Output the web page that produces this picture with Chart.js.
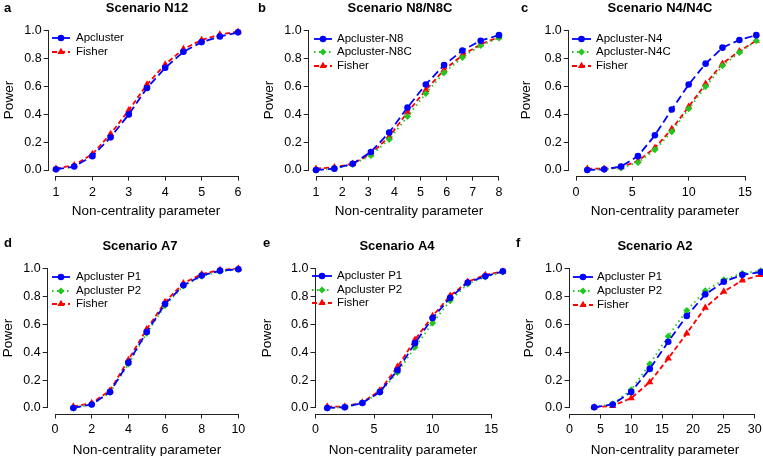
<!DOCTYPE html>
<html>
<head>
<meta charset="utf-8">
<script src="https://cdn.jsdelivr.net/npm/chart.js@4/dist/chart.umd.min.js"></script>
<style>
  html, body { margin: 0; padding: 0; background: #fff; overflow: hidden; width: 763px; height: 457px; }
  canvas { position: absolute; }
</style>
</head>
<body>
<canvas id="pa"></canvas>
<canvas id="pb"></canvas>
<canvas id="pc"></canvas>
<canvas id="pd"></canvas>
<canvas id="pe"></canvas>
<canvas id="pf"></canvas>
<script>
// ---- Data ----
const yTicks = [0, 0.2, 0.4, 0.6, 0.8, 1.0];

// a: Scenario N12
const xA = [1, 1.5, 2, 2.5, 3, 3.5, 4, 4.5, 5, 5.5, 6];
const aApcluster = [0.005, 0.025, 0.10, 0.235, 0.40, 0.59, 0.735, 0.85, 0.92, 0.96, 0.99];
const aFisher    = [0.01, 0.035, 0.115, 0.26, 0.43, 0.615, 0.76, 0.87, 0.935, 0.975, 0.995];
const xTicksA = [1, 2, 3, 4, 5, 6];

// b: Scenario N8/N8C
const xB = [1, 1.7, 2.4, 3.1, 3.8, 4.5, 5.2, 5.9, 6.6, 7.3, 8];
const bN8     = [0.0, 0.01, 0.045, 0.13, 0.27, 0.45, 0.615, 0.755, 0.86, 0.93, 0.97];
const bN8C    = [0.0, 0.01, 0.04, 0.105, 0.22, 0.385, 0.55, 0.70, 0.81, 0.895, 0.95];
const bFisher = [0.01, 0.02, 0.045, 0.115, 0.24, 0.415, 0.575, 0.72, 0.825, 0.905, 0.955];
const xTicksB = [1, 2, 3, 4, 5, 6, 7, 8];

// c: Scenario N4/N4C
const xC = [1, 2.5, 4, 5.5, 7, 8.5, 10, 11.5, 13, 14.5, 16];
const cN4     = [0.0, 0.005, 0.025, 0.10, 0.25, 0.435, 0.615, 0.765, 0.88, 0.935, 0.97];
const cN4C    = [0.0, 0.005, 0.015, 0.055, 0.145, 0.275, 0.44, 0.60, 0.75, 0.845, 0.93];
const cFisher = [0.01, 0.01, 0.02, 0.065, 0.16, 0.295, 0.455, 0.62, 0.765, 0.855, 0.93];
const xTicksC = [0, 5, 10, 15];

// d: Scenario A7
const xD = [1, 2, 3, 4, 5, 6, 7, 8, 9, 10];
const dP1     = [0.0, 0.025, 0.115, 0.325, 0.545, 0.745, 0.88, 0.95, 0.985, 0.995];
const dP2     = [0.0, 0.025, 0.11, 0.315, 0.535, 0.735, 0.875, 0.945, 0.98, 0.995];
const dFisher = [0.01, 0.035, 0.125, 0.345, 0.565, 0.76, 0.895, 0.96, 0.99, 1.0];
const xTicksD = [0, 2, 4, 6, 8, 10];

// e: Scenario A4
const xE = [1, 2.5, 4, 5.5, 7, 8.5, 10, 11.5, 13, 14.5, 16];
const eP1     = [0.0, 0.005, 0.035, 0.115, 0.27, 0.465, 0.645, 0.79, 0.90, 0.945, 0.98];
const eP2     = [0.0, 0.005, 0.035, 0.11, 0.255, 0.435, 0.61, 0.77, 0.89, 0.94, 0.975];
const eFisher = [0.01, 0.01, 0.04, 0.125, 0.295, 0.49, 0.66, 0.805, 0.905, 0.955, 0.98];
const xTicksE = [0, 5, 10, 15];

// f: Scenario A2
const xF = [4, 7, 10, 13, 16, 19, 22, 25, 28, 31];
const fP1     = [0.005, 0.025, 0.115, 0.28, 0.475, 0.66, 0.815, 0.905, 0.955, 0.975];
const fP2     = [0.005, 0.03, 0.13, 0.315, 0.515, 0.70, 0.84, 0.92, 0.965, 0.985];
const fFisher = [0.005, 0.015, 0.07, 0.185, 0.355, 0.535, 0.72, 0.835, 0.915, 0.955];
const xTicksF = [0, 5, 10, 15, 20, 25, 30];

// ---- Styles ----
const FONT = '"Liberation Sans", Arial, sans-serif';
const BLUE = { color: '#0000ff', dash: [8, 4], legendDash: [], marker: 'circle', r: 3.3 };
const GREEN = { color: '#1ec81e', dash: [1.5, 3.5], legendDash: [1.5, 3.5], marker: 'rectRot', r: 3.5 };
const RED = { color: '#ff0000', dash: [5, 3], legendDash: [5, 3], marker: 'triangle', r: 4.2 };

const CW = 262, CH = 228;

// ---- Plugin: R-style axes, titles, legend ----
function panelPlugin(p) {
  return {
    id: 'panel_' + p.letter,
    afterDraw(chart) {
      const { ctx, chartArea, scales: { x, y } } = chart;
      ctx.save();
      // axis lines between first and last tick
      ctx.strokeStyle = '#222';
      ctx.lineWidth = 1;
      ctx.beginPath();
      const xb = Math.round(chartArea.bottom) + 0.5;
      ctx.moveTo(x.getPixelForValue(p.xTicks[0]), xb);
      ctx.lineTo(x.getPixelForValue(p.xTicks[p.xTicks.length - 1]), xb);
      const yl = Math.round(chartArea.left) - 0.5;
      ctx.moveTo(yl, y.getPixelForValue(yTicks[0]));
      ctx.lineTo(yl, y.getPixelForValue(yTicks[yTicks.length - 1]));
      ctx.stroke();

      ctx.fillStyle = '#000';
      // panel letter
      ctx.font = 'bold 13px ' + FONT;
      ctx.textAlign = 'left';
      ctx.textBaseline = 'middle';
      ctx.fillText(p.letter, p.letterPos[0], p.letterPos[1]);
      // title
      ctx.font = 'bold 13px ' + FONT;
      ctx.textAlign = 'center';
      ctx.fillText(p.title, p.titlePos[0], p.titlePos[1]);
      // axis titles
      ctx.font = '13.5px ' + FONT;
      ctx.fillText('Non-centrality parameter', p.xTitlePos[0], p.xTitlePos[1]);
      ctx.save();
      ctx.translate(p.yTitlePos[0], p.yTitlePos[1]);
      ctx.rotate(-Math.PI / 2);
      ctx.fillText('Power', 0, 0);
      ctx.restore();

      // legend
      ctx.font = '11.5px ' + FONT;
      ctx.textAlign = 'left';
      p.series.forEach((s, i) => {
        const ly = p.legend.rows[i];
        ctx.strokeStyle = s.style.color;
        ctx.fillStyle = s.style.color;
        ctx.lineWidth = 1.8;
        ctx.setLineDash(s.style.legendDash);
        ctx.beginPath();
        ctx.moveTo(p.legend.x1, ly);
        ctx.lineTo(p.legend.x2, ly);
        ctx.stroke();
        ctx.setLineDash([]);
        Chart.helpers.drawPoint(ctx, { pointStyle: s.style.marker, radius: s.style.r, rotation: 0, borderWidth: 0 },
          (p.legend.x1 + p.legend.x2) / 2, ly);
        ctx.fillStyle = '#000';
        ctx.fillText(s.name, p.legend.tx, ly);
      });
      ctx.restore();
    }
  };
}

function makePanel(id, left, top, p) {
  const cv = document.getElementById(id);
  cv.width = CW;
  cv.height = CH;
  cv.style.left = left + 'px';
  cv.style.top = top + 'px';
  new Chart(cv, {
    type: 'line',
    data: {
      datasets: p.series.map(s => ({
        label: s.name,
        data: p.x.map((xv, i) => ({ x: xv, y: s.y[i] })),
        borderColor: s.style.color,
        backgroundColor: s.style.color,
        borderDash: s.style.dash,
        borderWidth: 1.8,
        pointStyle: s.style.marker,
        pointRadius: s.style.r,
        pointBorderWidth: 0,
        tension: 0
      }))
    },
    options: {
      responsive: false,
      animation: false,
      events: [],
      layout: { padding: { top: p.area.top, right: CW - p.area.right, left: 0, bottom: 0 } },
      plugins: { legend: { display: false }, title: { display: false }, tooltip: { enabled: false } },
      scales: {
        x: {
          type: 'linear',
          min: p.xMin,
          max: p.xMax,
          afterBuildTicks: s => { s.ticks = p.xTicks.map(v => ({ value: v })); },
          afterFit: s => { s.height = CH - p.area.bottom; },
          grid: { drawOnChartArea: false, drawTicks: true, tickLength: 5, color: '#222', lineWidth: 1 },
          border: { display: false },
          ticks: { color: '#000', font: { family: FONT, size: 12.5 }, padding: 4, maxRotation: 0, autoSkip: false,
            callback: v => String(v) }
        },
        y: {
          type: 'linear',
          min: -0.04,
          max: 1.04,
          afterBuildTicks: s => { s.ticks = yTicks.map(v => ({ value: v })); },
          afterFit: s => { s.width = p.area.left; },
          grid: { drawOnChartArea: false, drawTicks: true, tickLength: 5, color: '#222', lineWidth: 1 },
          border: { display: false },
          ticks: { color: '#000', font: { family: FONT, size: 12.5 }, padding: 2, callback: v => v.toFixed(1) }
        }
      }
    },
    plugins: [panelPlugin(p)]
  });
}

const TOP = { top: 25.4, bottom: 175.6 };
const BOT = { top: 35, bottom: 185.5 };

makePanel('pa', 0, 0, {
  letter: 'a', title: 'Scenario N12',
  x: xA, xTicks: xTicksA, xMin: 0.8, xMax: 6.2,
  area: { left: 48.7, right: 245.3, ...TOP },
  letterPos: [4, 8], titlePos: [147, 8], xTitlePos: [146, 211], yTitlePos: [9, 100],
  legend: { x1: 52, x2: 70, tx: 76, rows: [38, 52] },
  series: [
    { name: 'Apcluster', y: aApcluster, style: BLUE },
    { name: 'Fisher', y: aFisher, style: RED }
  ]
});

makePanel('pb', 254, 0, {
  letter: 'b', title: 'Scenario N8/N8C',
  x: xB, xTicks: xTicksB, xMin: 0.72, xMax: 8.28,
  area: { left: 54.7, right: 252.3, ...TOP },
  letterPos: [4, 8], titlePos: [146, 8], xTitlePos: [155, 211], yTitlePos: [15, 100],
  legend: { x1: 60, x2: 78, tx: 83, rows: [39, 52, 66] },
  series: [
    { name: 'Apcluster-N8', y: bN8, style: BLUE },
    { name: 'Apcluster-N8C', y: bN8C, style: GREEN },
    { name: 'Fisher', y: bFisher, style: RED }
  ]
});

makePanel('pc', 508, 0, {
  letter: 'c', title: 'Scenario N4/N4C',
  x: xC, xTicks: xTicksC, xMin: -0.64, xMax: 16.64,
  area: { left: 60.8, right: 255.5, ...TOP },
  letterPos: [13, 8], titlePos: [152, 8], xTitlePos: [157, 211], yTitlePos: [18, 100],
  legend: { x1: 64, x2: 83, tx: 88, rows: [39, 52, 66] },
  series: [
    { name: 'Apcluster-N4', y: cN4, style: BLUE },
    { name: 'Apcluster-N4C', y: cN4C, style: GREEN },
    { name: 'Fisher', y: cFisher, style: RED }
  ]
});

makePanel('pd', 0, 228, {
  letter: 'd', title: 'Scenario A7',
  x: xD, xTicks: xTicksD, xMin: -0.4, xMax: 10.4,
  area: { left: 47.7, right: 245.7, ...BOT },
  letterPos: [4, 15], titlePos: [140, 18], xTitlePos: [147, 222], yTitlePos: [8, 110],
  legend: { x1: 52, x2: 70, tx: 76, rows: [49, 63, 76] },
  series: [
    { name: 'Apcluster P1', y: dP1, style: BLUE },
    { name: 'Apcluster P2', y: dP2, style: GREEN },
    { name: 'Fisher', y: dFisher, style: RED }
  ]
});

makePanel('pe', 254, 228, {
  letter: 'e', title: 'Scenario A4',
  x: xE, xTicks: xTicksE, xMin: 0, xMax: 16.5,
  area: { left: 61.5, right: 254.7, ...BOT },
  letterPos: [9, 15], titlePos: [143, 18], xTitlePos: [149, 222], yTitlePos: [13, 110],
  legend: { x1: 58, x2: 78, tx: 83, rows: [48, 62, 75] },
  series: [
    { name: 'Apcluster P1', y: eP1, style: BLUE },
    { name: 'Apcluster P2', y: eP2, style: GREEN },
    { name: 'Fisher', y: eFisher, style: RED }
  ]
});

makePanel('pf', 508, 228, {
  letter: 'f', title: 'Scenario A2',
  x: xF, xTicks: xTicksF, xMin: 0, xMax: 31.5,
  area: { left: 61.5, right: 255.9, ...BOT },
  letterPos: [8, 15], titlePos: [147, 18], xTitlePos: [157, 222], yTitlePos: [21, 110],
  legend: { x1: 65, x2: 85, tx: 89, rows: [49, 63, 77] },
  series: [
    { name: 'Apcluster P1', y: fP1, style: BLUE },
    { name: 'Apcluster P2', y: fP2, style: GREEN },
    { name: 'Fisher', y: fFisher, style: RED }
  ]
});
</script>
</body>
</html>
